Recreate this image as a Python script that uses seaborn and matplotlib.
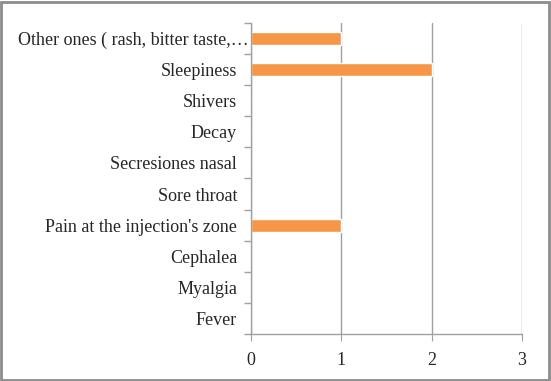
import pandas as pd
import seaborn as sns
import matplotlib.pyplot as plt
import matplotlib.transforms as mtransforms
from matplotlib.ticker import FixedLocator
from matplotlib.patches import Rectangle

# Symptoms (top to bottom) and number of cases
symptoms = [
    "Other ones ( rash, bitter taste,\u2026",
    "Sleepiness",
    "Shivers",
    "Decay",
    "Secresiones nasal",
    "Sore throat",
    "Pain at the injection's zone",
    "Cephalea",
    "Myalgia",
    "Fever",
]
cases = [1, 2, 0, 0, 0, 0, 1, 0, 0, 0]
x_ticks = [0, 1, 2, 3]

df = pd.DataFrame({"symptom": symptoms, "cases": cases})

sns.set_style("white")
plt.rcParams["font.family"] = ["Liberation Serif", "DejaVu Serif"]

fig = plt.figure(figsize=(5.51, 3.81), dpi=100)
ax = fig.add_axes([0.4555, 0.123, 0.492, 0.817])

sns.barplot(data=df, x="cases", y="symptom", order=symptoms, orient="h",
            color="#F79646", saturation=1, width=0.42, ax=ax)

ax.set_xlim(0, 3)
ax.set_ylim(len(symptoms) - 0.5, -0.5)
ax.set_xticks(x_ticks)
ax.set_xticklabels([str(t) for t in x_ticks], fontsize=13)
ax.tick_params(axis="y", which="major", left=False, length=0, labelsize=13, pad=10)
ax.tick_params(axis="x", bottom=True, length=5, color="#A0A0A0", pad=8)
ax.yaxis.set_minor_locator(FixedLocator([i - 0.5 for i in range(len(symptoms) + 1)]))
ax.tick_params(axis="y", which="minor", left=True, length=5, width=1,
               color="#A0A0A0", direction="out")
ax.set_xlabel("")
ax.set_ylabel("")

# the long truncated label runs up to the axis line
first = ax.get_yticklabels()[0]
first.set_transform(first.get_transform() +
                    mtransforms.ScaledTranslation(8 / 72, 0, fig.dpi_scale_trans))

ax.grid(axis="x", color="#A0A0A0", linewidth=1)
ax.set_axisbelow(True)
for side in ["top", "right"]:
    ax.spines[side].set_visible(False)
for side in ["left", "bottom"]:
    ax.spines[side].set_color("#A0A0A0")
    ax.spines[side].set_linewidth(1)

# frame around the chart area
fig.patches.append(Rectangle((0.002, 0.003), 0.994, 0.993, transform=fig.transFigure,
                             fill=False, edgecolor="#8C8C8C", linewidth=2))

fig.savefig("out.png", dpi=100)
